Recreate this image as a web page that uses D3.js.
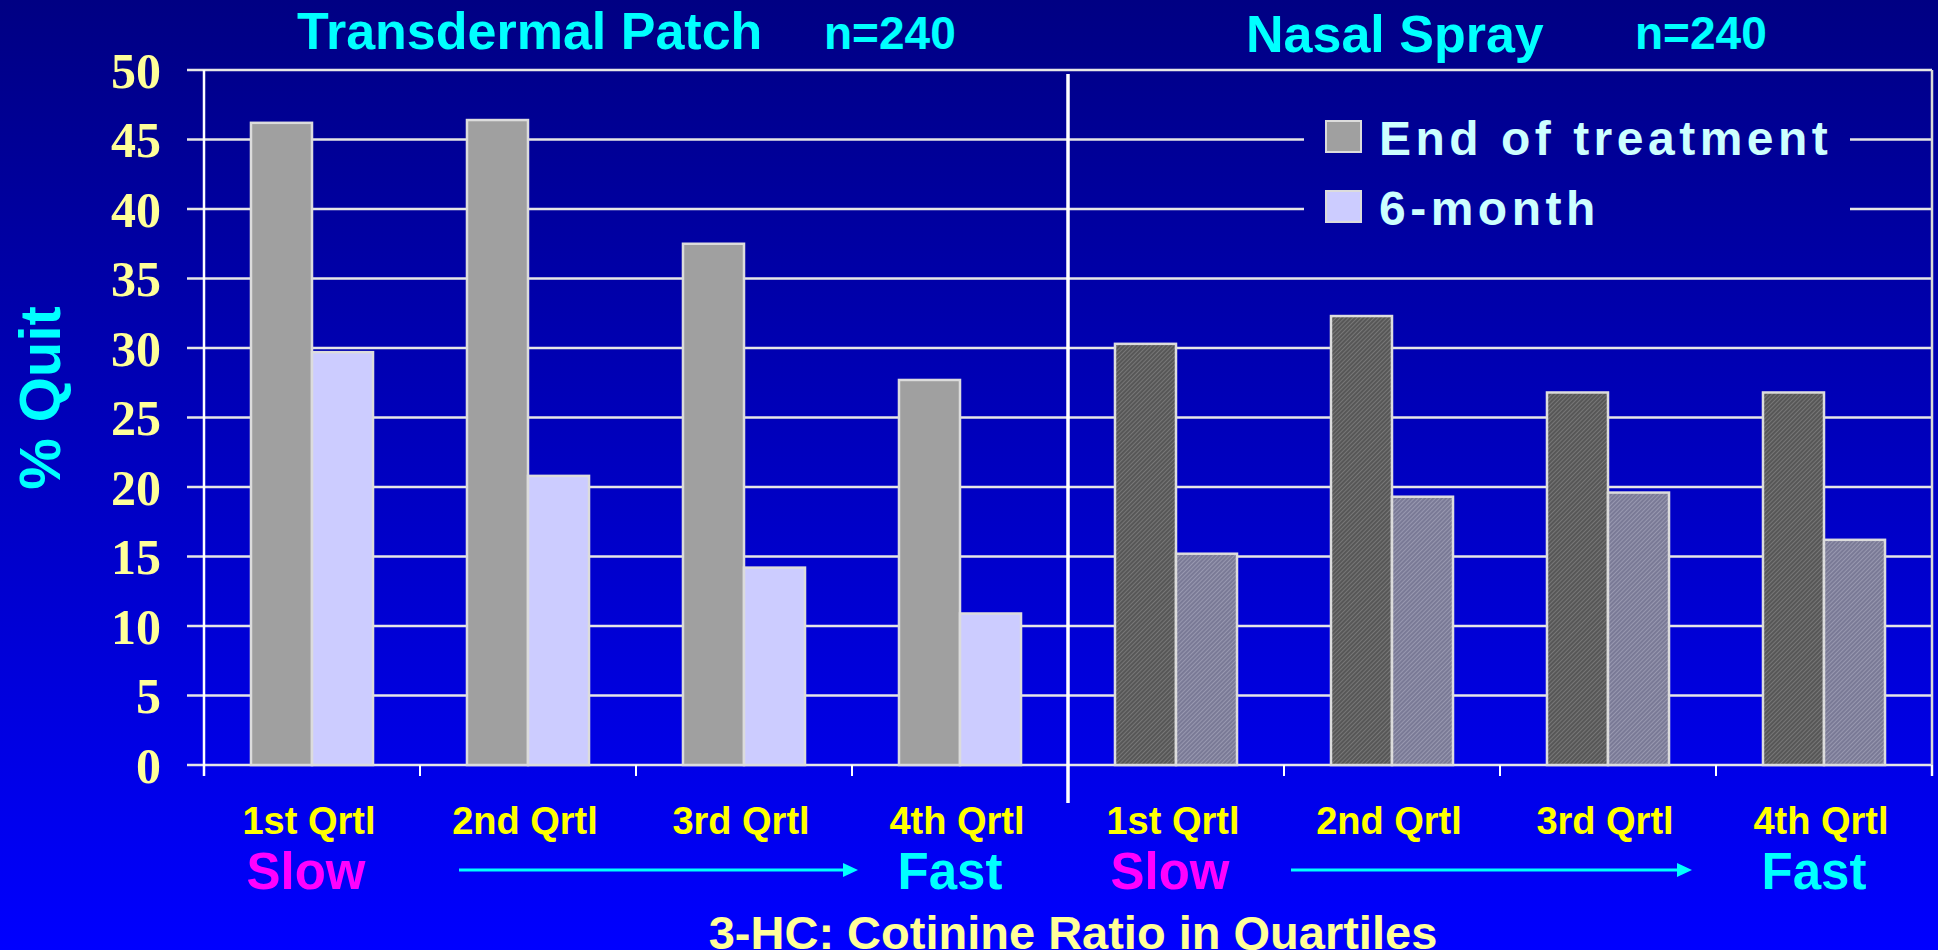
<!DOCTYPE html>
<html>
<head>
<meta charset="utf-8">
<script src="https://cdn.jsdelivr.net/npm/d3@7"></script>
<style>
  body { margin: 0; background: #0000ff; overflow: hidden; }
  text { font-family: "Liberation Sans", Arial, sans-serif; font-weight: bold; }
</style>
</head>
<body>
<div id="chart"></div>
<script>
// values
var groups = ["Transdermal Patch", "Nasal Spray"];
var groupN = ["n=240", "n=240"];
var quartiles = ["1st Qrtl", "2nd Qrtl", "3rd Qrtl", "4th Qrtl"];
var seriesNames = ["End of treatment", "6-month"];
var patchEnd = [46.2, 46.4, 37.5, 27.7];
var patch6m = [29.7, 20.8, 14.2, 10.9];
var sprayEnd = [30.3, 32.3, 26.8, 26.8];
var spray6m = [15.2, 19.3, 19.6, 16.2];
var yTicks = [0, 5, 10, 15, 20, 25, 30, 35, 40, 45, 50];

var width = 1938, height = 950;
var plotLeft = 204, plotRight = 1932, plotTop = 70, plotBottom = 765;

var rows = [];
groups.forEach(function(g, gi) {
    var endVals = gi == 0 ? patchEnd : sprayEnd;
    var sixVals = gi == 0 ? patch6m : spray6m;
    quartiles.forEach(function(q, qi) {
        rows.push({group: g, gi: gi, quartile: q, key: g + "|" + q,
                   values: [endVals[qi], sixVals[qi]]});
    });
});

var svg = d3.select("#chart").append("svg")
    .attr("width", width)
    .attr("height", height);

var defs = svg.append("defs");
var grad = defs.append("linearGradient")
    .attr("id", "bg")
    .attr("gradientUnits", "userSpaceOnUse")
    .attr("x1", 0).attr("y1", 0).attr("x2", 0).attr("y2", height);
grad.append("stop").attr("offset", "0%").attr("stop-color", "#000083");
grad.append("stop").attr("offset", "100%").attr("stop-color", "#0000ff");

// fine woven texture for the nasal spray bars
function texture(id, base, line) {
    var p = defs.append("pattern")
        .attr("id", id)
        .attr("patternUnits", "userSpaceOnUse")
        .attr("width", 3).attr("height", 3)
        .attr("patternTransform", "rotate(45)");
    p.append("rect").attr("width", 3).attr("height", 3).attr("fill", base);
    p.append("rect").attr("width", 1).attr("height", 3).attr("fill", line);
}
texture("darkTex", "#575757", "#777777");
texture("lightTex", "#7a7a96", "#9898b0");

var fills = [["#a0a0a0", "#ccccff"], ["url(#darkTex)", "url(#lightTex)"]];

svg.append("rect")
    .attr("width", width).attr("height", height)
    .attr("fill", "url(#bg)");

var x = d3.scaleBand()
    .domain(rows.map(function(d) { return d.key; }))
    .range([plotLeft, plotRight]);

var x1 = d3.scaleBand()
    .domain([0, 1])
    .range([0, x.bandwidth()])
    .paddingOuter(0.77);

var y = d3.scaleLinear().domain([0, 50]).range([plotBottom, plotTop]);

// gridlines
svg.append("g").selectAll("line")
    .data(yTicks)
    .enter().append("line")
    .attr("x1", plotLeft - 17).attr("x2", plotRight)
    .attr("y1", function(d) { return y(d); })
    .attr("y2", function(d) { return y(d); })
    .attr("stroke", "#e6e6e6")
    .attr("stroke-width", 2.5);

// y axis labels (serif, slightly squashed like the slide)
var yAxis = d3.axisLeft(y).tickValues(yTicks).tickSize(0).tickPadding(43);
var yg = svg.append("g")
    .attr("transform", "translate(" + plotLeft + ",0)")
    .call(yAxis);
yg.select(".domain").remove();
yg.selectAll(".tick text")
    .attr("fill", "#ffff99")
    .style("font-family", "'Liberation Serif', 'Times New Roman', serif")
    .style("font-size", "50px")
    .style("font-weight", "bold")
    .attr("dy", "0.34em");

// axis lines and bottom ticks
svg.append("line")
    .attr("x1", plotLeft).attr("x2", plotLeft)
    .attr("y1", plotTop).attr("y2", plotBottom + 11)
    .attr("stroke", "#ffffff").attr("stroke-width", 2.5);
svg.append("line")
    .attr("x1", plotRight).attr("x2", plotRight)
    .attr("y1", plotTop).attr("y2", plotBottom + 11)
    .attr("stroke", "#d8d8d8").attr("stroke-width", 2.5);

var tickPos = rows.map(function(d) { return x(d.key); }).concat([plotRight]);
svg.append("g").selectAll("line")
    .data(tickPos)
    .enter().append("line")
    .attr("x1", function(d) { return d; })
    .attr("x2", function(d) { return d; })
    .attr("y1", plotBottom).attr("y2", plotBottom + 11)
    .attr("stroke", "#ffffff").attr("stroke-width", 2);

// legend box hides the gridlines behind it
svg.append("rect")
    .attr("x", 1304).attr("y", 100)
    .attr("width", 546).attr("height", 140)
    .attr("fill", "url(#bg)");

// bars
var grp = svg.append("g").selectAll("g")
    .data(rows)
    .enter().append("g")
    .attr("transform", function(d) { return "translate(" + x(d.key) + ",0)"; });

grp.selectAll("rect")
    .data(function(d) { return d.values.map(function(v, i) { return {v: v, i: i, gi: d.gi}; }); })
    .enter().append("rect")
    .attr("x", function(d) { return x1(d.i); })
    .attr("width", x1.bandwidth())
    .attr("y", function(d) { return y(d.v); })
    .attr("height", function(d) { return y(0) - y(d.v); })
    .attr("fill", function(d) { return fills[d.gi][d.i]; })
    .attr("stroke", "#dcdcdc")
    .attr("stroke-width", 2.5);

// divider between the two treatments
var splitX = x(groups[1] + "|" + quartiles[0]);
svg.append("line")
    .attr("x1", splitX).attr("x2", splitX)
    .attr("y1", 74).attr("y2", 803)
    .attr("stroke", "#ffffff").attr("stroke-width", 3.5);

// quartile labels
svg.append("g").selectAll("text")
    .data(rows)
    .enter().append("text")
    .attr("x", function(d) { return x(d.key) + x.bandwidth() / 2 - 3; })
    .attr("y", 834)
    .attr("text-anchor", "middle")
    .attr("fill", "#ffff00")
    .style("font-size", "38px")
    .text(function(d) { return d.quartile; });

// slow -> fast
groups.forEach(function(g, gi) {
    var first = x(g + "|" + quartiles[0]) + x.bandwidth() / 2;
    var last = x(g + "|" + quartiles[3]) + x.bandwidth() / 2;
    svg.append("text")
        .attr("x", first - 6).attr("y", 889)
        .attr("text-anchor", "middle")
        .attr("fill", "#ff00ff")
        .style("font-size", "51px")
        .text("Slow");
    svg.append("text")
        .attr("x", last - 10).attr("y", 889)
        .attr("text-anchor", "middle")
        .attr("fill", "#00ffff")
        .style("font-size", "51px")
        .text("Fast");
    var ax0 = gi == 0 ? 459 : 1291;
    var ax1 = gi == 0 ? 858 : 1692;
    svg.append("line")
        .attr("x1", ax0).attr("x2", ax1 - 14)
        .attr("y1", 870).attr("y2", 870)
        .attr("stroke", "#00ffff").attr("stroke-width", 3);
    svg.append("path")
        .attr("d", "M" + (ax1 - 15) + ",863L" + ax1 + ",870L" + (ax1 - 15) + ",877Z")
        .attr("fill", "#00ffff");
});

// titles
var titleX = [297, 1246], nX = [824, 1635], titleY = [49, 52];
groups.forEach(function(g, gi) {
    svg.append("text")
        .attr("x", titleX[gi]).attr("y", titleY[gi])
        .attr("fill", "#00ffff")
        .style("font-size", "52px")
        .text(g);
    svg.append("text")
        .attr("x", nX[gi]).attr("y", 49)
        .attr("fill", "#00ffff")
        .style("font-size", "46px")
        .text(groupN[gi]);
});

svg.append("text")
    .attr("transform", "translate(60,398) rotate(-90)")
    .attr("text-anchor", "middle")
    .attr("fill", "#00ffff")
    .style("font-size", "58px")
    .text("% Quit");

svg.append("text")
    .attr("x", 1073).attr("y", 949)
    .attr("text-anchor", "middle")
    .attr("fill", "#ffff99")
    .style("font-size", "47px")
    .text("3-HC: Cotinine Ratio in Quartiles");

// legend
var legend = svg.append("g").selectAll("g")
    .data(seriesNames)
    .enter().append("g")
    .attr("transform", function(d, i) { return "translate(1326," + (121 + i * 70) + ")"; });
legend.append("rect")
    .attr("width", 35).attr("height", 31)
    .attr("fill", function(d, i) { return fills[0][i]; })
    .attr("stroke", "#dcdcdc")
    .attr("stroke-width", 2);
legend.append("text")
    .attr("x", 53).attr("y", 34)
    .attr("fill", "#ccffff")
    .style("font-size", "48px")
    .style("letter-spacing", "4.5px")
    .text(function(d) { return d; });
</script>
</body>
</html>
